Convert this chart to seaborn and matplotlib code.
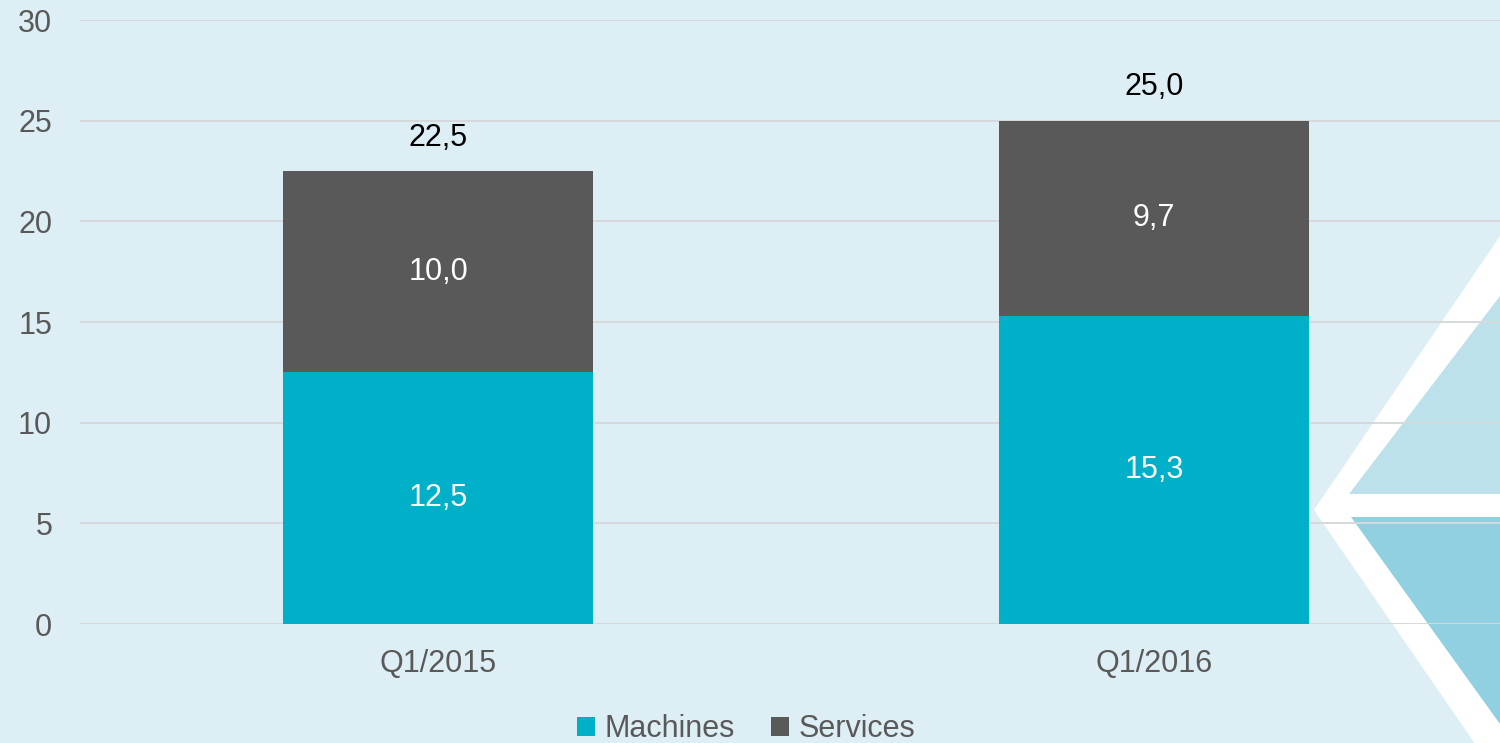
import matplotlib
matplotlib.use("Agg")
import matplotlib.pyplot as plt
from matplotlib.patches import Polygon, Patch
import seaborn as sns
import pandas as pd

categories = ["Q1/2015", "Q1/2016"]
machines = [12.5, 15.3]
services = [10.0, 9.7]
totals = [22.5, 25.0]
series_names = ["Machines", "Services"]
yticks = [0, 5, 10, 15, 20, 25, 30]

BG = "#DDEFF5"
TEAL = "#00B0C8"
GREY = "#595959"
GRID = "#D5D9DB"
TXT = "#595959"
FS = 22

sns.set_theme(style="white")
plt.rcParams["font.family"] = ["Liberation Sans", "DejaVu Sans"]

W, H = 1500, 743
fig = plt.figure(figsize=(W / 100, H / 100), dpi=100, facecolor=BG)

def fp(pts):
    return [(x / W, 1 - y / H) for x, y in pts]

# decorative chevron shapes (figure coordinates, behind axes)
for pts, col in [
    ([(1500, 236), (1314, 510), (1500, 780)], "white"),
    ([(1500, 296), (1349, 494), (1500, 494)], "#BCE1EB"),
    ([(1500, 517), (1351, 517), (1500, 724)], "#90D0E0"),
]:
    fig.patches.append(Polygon(fp(pts), closed=True, transform=fig.transFigure,
                               facecolor=col, edgecolor="none", zorder=-5))

ax = fig.add_axes([80 / W, 1 - 624 / H, 1 - 80 / W, (624 - 20) / H])
ax.set_facecolor("none")

df = pd.DataFrame({"cat": categories, "machines": machines,
                   "services": services, "total": totals})

sns.barplot(data=df, x="cat", y="total", color=GREY, saturation=1,
            width=0.433, ax=ax, zorder=3, linewidth=0, edgecolor="none")
sns.barplot(data=df, x="cat", y="machines", color=TEAL, saturation=1,
            width=0.433, ax=ax, zorder=4, linewidth=0, edgecolor="none")

for i, (m, s, t) in enumerate(zip(machines, services, totals)):
    ax.text(i, m / 2, f"{m:.1f}".replace(".", ","), ha="center", va="center",
            color="white", fontsize=FS, zorder=6)
    ax.text(i, m + s / 2, f"{s:.1f}".replace(".", ","), ha="center", va="center",
            color="white", fontsize=FS, zorder=6)
    ax.annotate(f"{t:.1f}".replace(".", ","), (i, t), xytext=(0, 24),
                textcoords="offset points", ha="center", va="center",
                color="black", fontsize=FS, zorder=6)

ax.set_ylim(0, 30)
ax.set_xlim(-0.5, 1.483)
ax.set_yticks(yticks)
ax.set_yticklabels([str(v) for v in yticks])
ax.yaxis.grid(True, color=GRID, linewidth=1.4, zorder=0)
ax.set_axisbelow(True)
for sp in ax.spines.values():
    sp.set_visible(False)
ax.tick_params(axis="y", length=0, pad=20, labelsize=FS, labelcolor=TXT)
ax.tick_params(axis="x", length=0, pad=18, labelsize=FS, labelcolor=TXT)
ax.set_xlabel("")
ax.set_ylabel("")

handles = [Patch(facecolor=TEAL, edgecolor="none"), Patch(facecolor=GREY, edgecolor="none")]
leg = fig.legend(handles, series_names, loc="center", bbox_to_anchor=(746 / W, 1 - 729 / H),
                 ncol=2, frameon=False, fontsize=FS, handlelength=0.6, handleheight=0.6,
                 handletextpad=0.3, columnspacing=1.2, labelcolor=TXT)

fig.savefig("out.png", dpi=100, facecolor=BG)
